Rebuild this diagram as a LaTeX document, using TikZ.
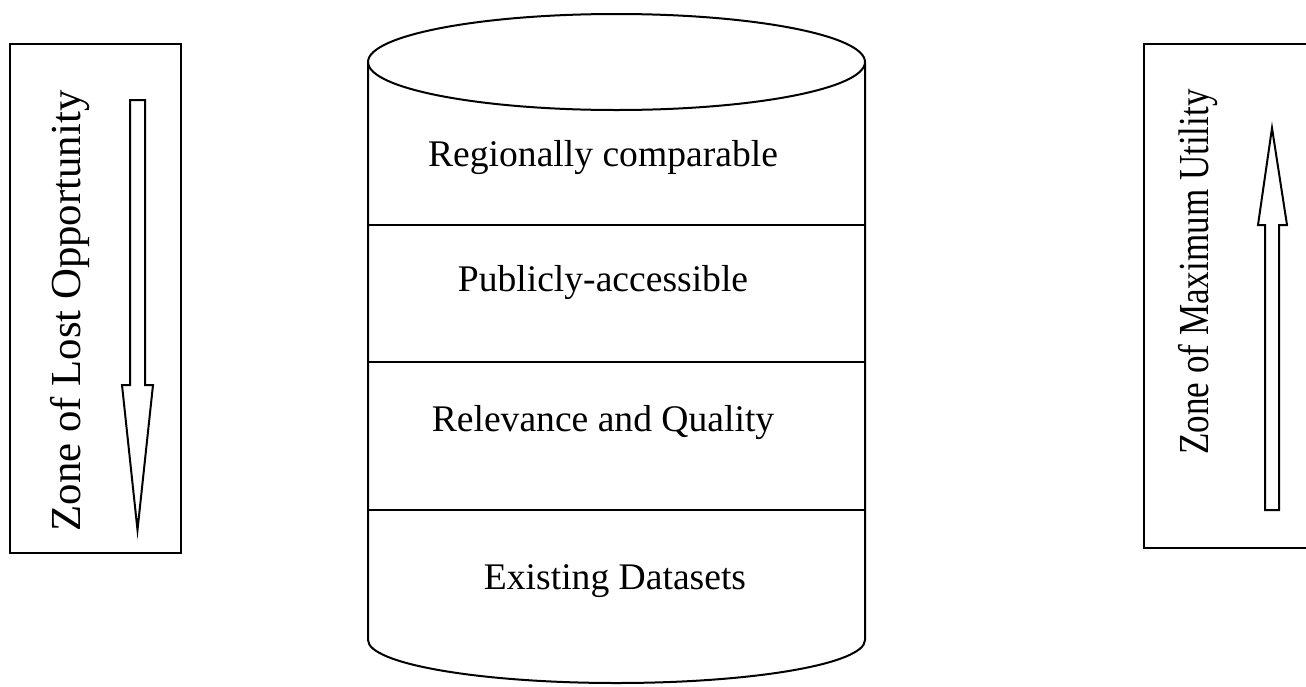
\documentclass[tikz,border=0pt]{standalone}
\usepackage{fontspec}
\setmainfont{Liberation Serif}
\begin{document}
\begin{tikzpicture}[x=0.5pt,y=-0.5pt,line width=1pt,
    every node/.style={font=\fontsize{18.8}{22}\selectfont},
    zonetext/.style={rotate=90, anchor=base, font=\fontsize{21.4}{25}\selectfont}]
    \useasboundingbox (0,0) rectangle (1306,686);

    % Draw the left zone box with its downward arrow
    \draw (10,44) rectangle (181,553);
    \node[zonetext] (lost) at (80,311) {Zone of Lost Opportunity};
    \draw (130,100) -- (145,100) -- (145,385) -- (153,385) -- (137.5,530)
        -- (122,385) -- (130,385) -- cycle;

    % Draw the cylinder
    \draw (616.5,62) ellipse [x radius=248.5, y radius=48];
    \draw (368,62) -- (368,640) arc[start angle=180, end angle=0, x radius=248.5, y radius=43]
        -- (865,62);
    \draw (368,225) -- (865,225);
    \draw (368,362) -- (865,362);
    \draw (368,510) -- (865,510);

    % Draw the layer labels
    \node (regional) at (603,158) {Regionally comparable};
    \node (public) at (603,283) {Publicly-accessible};
    \node (quality) at (603,423) {Relevance and Quality};
    \node (existing) at (615,581) {Existing Datasets};

    % Draw the right zone box with its upward arrow
    \draw (1306,44) -- (1144,44) -- (1144,548) -- (1306,548);
    \node[zonetext] (utility) at (1208,272) {\scalebox{0.82}[1]{Zone of Maximum Utility}};
    \draw (1265,510) -- (1279,510) -- (1279,225) -- (1287,225) -- (1272,128)
        -- (1258,225) -- (1265,225) -- cycle;
\end{tikzpicture}
\end{document}
